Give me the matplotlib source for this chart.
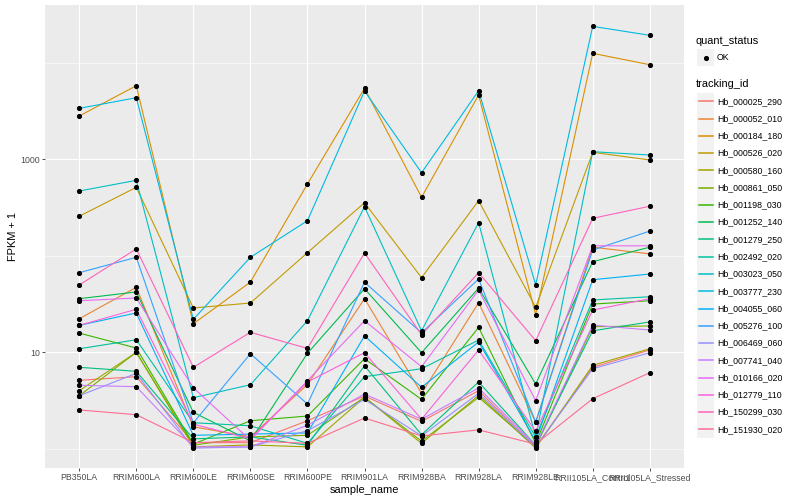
import numpy as np
import matplotlib
matplotlib.use('Agg')
import matplotlib.pyplot as plt
from matplotlib.ticker import FixedLocator, NullFormatter, FixedFormatter
from matplotlib.patches import Rectangle

plt.rcParams['font.family'] = ['Liberation Sans', 'DejaVu Sans']

samples = ['PB350LA', 'RRIM600LA', 'RRIM600LE', 'RRIM600SE', 'RRIM600PE', 'RRIM901LA',
           'RRIM928BA', 'RRIM928LA', 'RRIM928LE', 'RRII105LA_Control', 'RRII105LA_Stressed']

tracking_ids = ['Hb_000025_290', 'Hb_000052_010', 'Hb_000184_180', 'Hb_000526_020',
                'Hb_000580_160', 'Hb_000861_050', 'Hb_001198_030', 'Hb_001252_140',
                'Hb_001279_250', 'Hb_002492_020', 'Hb_003023_050', 'Hb_003777_230',
                'Hb_004055_060', 'Hb_005276_100', 'Hb_006469_060', 'Hb_007741_040',
                'Hb_010166_020', 'Hb_012779_110', 'Hb_150299_030', 'Hb_151930_020']

# FPKM + 1 per sample
hb_000025_290 = [5.09, 5.55, 1.15, 1.15, 1.94, 3.50, 1.91, 3.97, 1.04, 6.94, 10.5]
hb_000052_010 = [22.1, 46.8, 1.68, 1.32, 4.6, 35.7, 3.73, 32.4, 1.88, 122, 104]
hb_000184_180 = [2790, 5750, 19.6, 53.1, 551, 5400, 401, 4605, 24.4, 12450, 9490]
hb_000526_020 = [255, 509, 28.6, 32.2, 107, 352, 58.9, 370, 29.1, 1173, 977]
hb_000580_160 = [3.97, 9.93, 1.04, 1.09, 1.04, 3.39, 1.13, 3.56, 1.01, 7.28, 10.8]
hb_000861_050 = [3.52, 9.93, 1.08, 1.32, 1.37, 3.39, 1.19, 3.39, 1.04, 18.3, 18.6]
hb_001198_030 = [15.7, 11.0, 1.11, 1.94, 2.17, 8.52, 3.23, 18.0, 1.13, 31.4, 34.0]
hb_001252_140 = [35.7, 41.9, 2.37, 1.20, 9.70, 45.3, 9.84, 46.0, 4.66, 86.3, 122]
hb_001279_250 = [6.94, 6.31, 1.26, 1.32, 1.08, 7.21, 1.39, 4.89, 1.08, 16.6, 20.5]
hb_002492_020 = [10.8, 13.4, 1.85, 1.72, 1.13, 5.55, 6.71, 13.3, 1.32, 34.6, 37.4]
hb_003023_050 = [466, 601, 3.36, 4.58, 21.1, 320, 16.6, 219, 1.32, 1191, 1100]
hb_003777_230 = [3350, 4315, 21.8, 95.8, 229.5, 5070, 721, 5105, 49.8, 23700, 19140]
hb_004055_060 = [18.9, 25.4, 1.37, 1.41, 1.45, 14.7, 4.31, 12.7, 1.20, 56.1, 64.3]
hb_005276_100 = [66.4, 95.8, 1.84, 9.60, 2.89, 52.8, 15.8, 57.1, 1.88, 114, 179]
hb_006469_060 = [3.52, 6.01, 1.01, 1.04, 1.53, 3.23, 1.35, 3.73, 1.04, 6.71, 9.84]
hb_007741_040 = [4.52, 4.37, 1.04, 1.04, 1.74, 3.67, 2.01, 4.24, 1.08, 19.0, 16.9]
hb_010166_020 = [34.0, 36.3, 4.26, 1.22, 5.04, 21.1, 7.04, 43.9, 3.13, 126, 126]
hb_012779_110 = [18.9, 27.7, 1.79, 1.26, 4.89, 9.84, 2.01, 10.5, 1.51, 27.2, 35.7]
hb_150299_030 = [49.5, 117, 6.94, 16.0, 10.9, 106, 15.1, 66.4, 13.1, 243, 324]
hb_151930_020 = [2.51, 2.24, 1.15, 1.20, 1.13, 2.07, 1.35, 1.56, 1.11, 3.28, 6.10]

series = [hb_000025_290, hb_000052_010, hb_000184_180, hb_000526_020, hb_000580_160,
          hb_000861_050, hb_001198_030, hb_001252_140, hb_001279_250, hb_002492_020,
          hb_003023_050, hb_003777_230, hb_004055_060, hb_005276_100, hb_006469_060,
          hb_007741_040, hb_010166_020, hb_012779_110, hb_150299_030, hb_151930_020]

# ggplot hue palette for 20 levels
colors = ['#F8766D', '#EA8331', '#D89000', '#C09B00', '#A3A500', '#7CAE00', '#39B600',
          '#00BB4E', '#00BF7D', '#00C1A3', '#00BFC4', '#00BAE0', '#00B0F6', '#35A2FF',
          '#9590FF', '#C77CFF', '#E76BF3', '#FA62DB', '#FF62BC', '#FF6C91']

fig = plt.figure(figsize=(8, 5), dpi=100)
ax = fig.add_axes([45 / 800, 1 - 468 / 500, (684 - 45) / 800, (468 - 5) / 500])
ax.set_facecolor('#EBEBEB')
for s in ax.spines.values():
    s.set_visible(False)

x = np.arange(len(samples))
for vals, c in zip(series, colors):
    ax.plot(x, vals, color=c, lw=0.8, zorder=3)
for vals in series:
    ax.plot(x, vals, 'o', color='black', ms=2.7, zorder=4)

ax.set_yscale('log')
ax.set_ylim(10 ** -0.202, 10 ** 4.596)
ax.set_xlim(-0.6, len(samples) - 0.4)
ax.yaxis.set_major_locator(FixedLocator([10, 1000]))
ax.yaxis.set_major_formatter(FixedFormatter(['10', '1000']))
ax.yaxis.set_minor_locator(FixedLocator([1, 100, 10000]))
ax.yaxis.set_minor_formatter(NullFormatter())
ax.set_xticks(x)
ax.set_xticklabels(samples)
ax.grid(which='major', color='white', lw=0.8, zorder=0)
ax.grid(which='minor', axis='y', color='white', lw=0.4, zorder=0)
ax.set_axisbelow(True)
ax.tick_params(which='major', length=2, width=0.6, color='#333333', labelcolor='#4D4D4D',
               labelsize=6.3, pad=1.6)
ax.tick_params(which='minor', length=0)
ax.set_xlabel('sample_name', fontsize=7.9, labelpad=2)
ax.set_ylabel('FPKM + 1', fontsize=7.9, labelpad=2)

# legend drawn in pixel space
lax = fig.add_axes([0, 0, 1, 1])
lax.set_xlim(0, 800)
lax.set_ylim(500, 0)
lax.axis('off')
lax.text(696, 40.5, 'quant_status', fontsize=7.9, va='center', ha='left')
lax.add_patch(Rectangle((697, 49), 17.3, 17.3, color='#F2F2F2', lw=0))
lax.plot([705.6], [57.6], 'o', color='black', ms=2.7)
lax.text(717, 57.6, 'OK', fontsize=6.3, va='center', ha='left')
lax.text(696, 84, 'tracking_id', fontsize=7.9, va='center', ha='left')
for i, (name, c) in enumerate(zip(tracking_ids, colors)):
    yc = 101.3 + i * 17.27
    lax.add_patch(Rectangle((697, yc - 8.6), 17.3, 17.3, color='#F2F2F2', lw=0, zorder=1))
    lax.plot([698.5, 712.5], [yc, yc], color=c, lw=1.1, zorder=2)
    lax.text(717, yc, name, fontsize=6.3, va='center', ha='left')

fig.savefig('out.png', dpi=100)
